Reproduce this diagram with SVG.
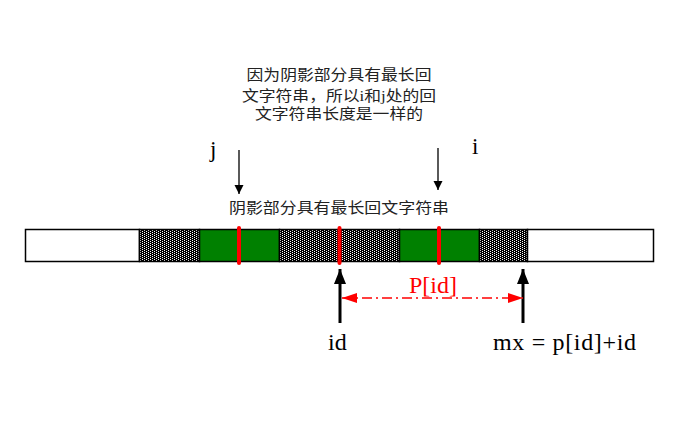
<svg xmlns="http://www.w3.org/2000/svg" width="686" height="434" viewBox="0 0 686 434">
<style>
.cn{font-family:"Liberation Serif","Noto Sans CJK SC",serif;font-size:15px;fill:#222;text-anchor:middle}
.lat{font-family:"Liberation Serif",serif;fill:#000}
.seg{stroke:#000;stroke-width:1.5}
.mark{stroke:#ff0000;stroke-width:4;stroke-linecap:round}
</style>
<defs>
<pattern id="dots" width="4" height="2" patternUnits="userSpaceOnUse">
<rect width="4" height="2" fill="#000"/>
<rect x="0" y="0" width="1" height="1" fill="#fff"/>
<rect x="2" y="1" width="1" height="1" fill="#fff"/>
</pattern>
<marker id="hDown" markerWidth="10" markerHeight="14" refX="9" refY="4.5" orient="auto" markerUnits="userSpaceOnUse">
<path d="M0,0 L9,4.5 L0,9 Z" fill="#000"/>
</marker>
<marker id="hUp" markerWidth="16" markerHeight="16" refX="15" refY="6" orient="auto" markerUnits="userSpaceOnUse">
<path d="M0,0 L15,6 L0,12 Z" fill="#000"/>
</marker>
<marker id="hRed" markerWidth="16" markerHeight="12" refX="15" refY="5" orient="auto-start-reverse" markerUnits="userSpaceOnUse">
<path d="M0,0 L15,5 L0,10 Z" fill="#ff0000"/>
</marker>
</defs>

<g id="note">
<text class="cn" x="339" y="80" textLength="185" lengthAdjust="spacingAndGlyphs">因为阴影部分具有最长回</text>
<text class="cn" x="339" y="101" textLength="194" lengthAdjust="spacingAndGlyphs">文字符串，所以i和j处的回</text>
<text class="cn" x="339" y="119" textLength="168" lengthAdjust="spacingAndGlyphs">文字符串长度是一样的</text>
</g>

<g id="label-j"><text class="lat" x="210" y="157" font-size="23">j</text></g>
<g id="label-i"><text class="lat" x="472" y="154" font-size="23">i</text></g>

<g id="bar-label">
<text class="cn" x="339" y="213" textLength="220" lengthAdjust="spacingAndGlyphs">阴影部分具有最长回文字符串</text>
</g>

<g id="bar">
<rect x="25.5" y="229.5" width="114" height="32" fill="#fff" class="seg"/>
<rect x="139.5" y="229.5" width="60" height="32" fill="url(#dots)" class="seg"/>
<rect x="199.5" y="229.5" width="80" height="32" fill="#008000" class="seg"/>
<rect x="279.5" y="229.5" width="120" height="32" fill="url(#dots)" class="seg"/>
<rect x="399.5" y="229.5" width="80" height="32" fill="#008000" class="seg"/>
<rect x="479.5" y="229.5" width="48" height="32" fill="url(#dots)" class="seg"/>
<rect x="527.5" y="229.5" width="126" height="32" fill="#fff" class="seg"/>
</g>

<g id="marks">
<line class="mark" x1="239" y1="228" x2="239" y2="263"/>
<line class="mark" x1="339.5" y1="228" x2="339.5" y2="263"/>
<line class="mark" x1="439" y1="228" x2="439" y2="263"/>
</g>

<g id="connectors">
<line x1="239" y1="150" x2="239" y2="194" stroke="#000" stroke-width="1.3" marker-end="url(#hDown)"/>
<line x1="438" y1="148" x2="438" y2="190" stroke="#000" stroke-width="1.3" marker-end="url(#hDown)"/>
<line x1="340" y1="323" x2="340" y2="269" stroke="#000" stroke-width="3" marker-end="url(#hUp)"/>
<line x1="523" y1="323" x2="523" y2="269" stroke="#000" stroke-width="3" marker-end="url(#hUp)"/>
<line x1="342" y1="298" x2="523" y2="298" stroke="#ff0000" stroke-width="1.5" stroke-dasharray="10,4,2,4" marker-start="url(#hRed)" marker-end="url(#hRed)"/>
</g>

<g id="label-pid"><text class="lat" x="433" y="293" font-size="24" text-anchor="middle" style="fill:#ff0000">P[id]</text></g>
<g id="label-id"><text class="lat" x="328" y="350" font-size="24">id</text></g>
<g id="label-mx"><text class="lat" x="493" y="350" font-size="24" textLength="143" lengthAdjust="spacing">mx = p[id]+id</text></g>
</svg>
